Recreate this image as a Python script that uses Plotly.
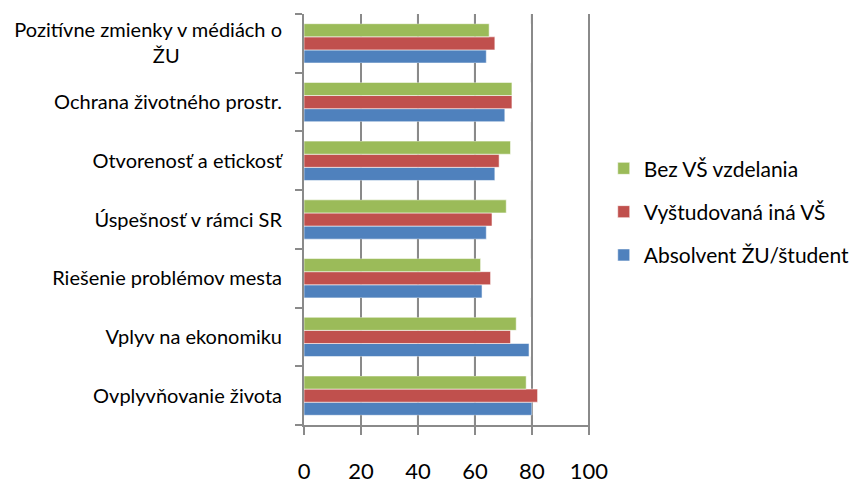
import plotly.graph_objects as go

categories = [
    "Ovplyvňovanie života",
    "Vplyv na ekonomiku",
    "Riešenie problémov mesta",
    "Úspešnosť v rámci SR",
    "Otvorenosť a etickosť",
    "Ochrana životného prostr.",
    "Pozitívne zmienky v médiách o<br>ŽU" + "\u00a0" * 20,
]
absolvent = [80, 79, 62.5, 64, 67, 70.5, 64]
vystudovana = [82, 72.5, 65.5, 66, 68.5, 73, 67]
bez_vs = [78, 74.5, 62, 71, 72.5, 73, 65]
x_ticks = [0, 20, 40, 60, 80, 100]

series = [
    ("Absolvent ŽU/študent", absolvent, "#4F81BD", 3),
    ("Vyštudovaná iná VŠ", vystudovana, "#C0504D", 2),
    ("Bez VŠ vzdelania", bez_vs, "#9BBB59", 1),
]

BARGAP = 0.33
GRID = "#8A8A8A"

fig = go.Figure()
for i, (name, vals, col, rank) in enumerate(series):
    fig.add_trace(go.Bar(
        y=categories, x=vals, name=name, orientation="h",
        marker=dict(color=col, line=dict(color="rgba(255,255,255,0.55)", width=1)),
        legendgroup=str(i), legendrank=rank,
    ))

# gridline segments in the gaps between bar groups (bars hide the rest)
half = (1 - BARGAP) / 2
n = len(categories)
for v in x_ticks[1:-1]:
    for k in range(-1, n):
        y0 = max(k + half, -0.5)
        y1 = min(k + 1 - half, n - 0.5)
        fig.add_shape(type="line", xref="x", yref="y", x0=v, x1=v, y0=y0, y1=y1,
                      line=dict(color=GRID, width=2), layer="above")

fig.update_layout(
    width=853, height=482,
    margin=dict(l=293, r=270, t=6, b=54),
    paper_bgcolor="white", plot_bgcolor="white",
    barmode="group", bargap=BARGAP, bargroupgap=0,
    font=dict(family="Lato, Open Sans, sans-serif", color="black"),
    legend=dict(
        x=1.048, xanchor="left", y=0.519, yanchor="middle",
        traceorder="grouped", tracegroupgap=13,
        font=dict(size=21, color="black"),
    ),
    xaxis=dict(
        range=[0, 100.4], tickvals=x_ticks,
        showgrid=True, gridcolor=GRID, gridwidth=2,
        showline=True, linecolor=GRID, linewidth=2,
        ticks="outside", ticklen=8, tickcolor=GRID, tickwidth=2,
        ticklabelstandoff=18,
        tickfont=dict(size=22), zeroline=False, fixedrange=True,
    ),
    yaxis=dict(
        range=[-0.5, n - 0.5],
        showline=True, linecolor=GRID, linewidth=2,
        ticks="outside", ticklen=7, tickcolor=GRID, tickwidth=2,
        tickson="boundaries", ticklabelstandoff=16,
        tickfont=dict(size=20), showgrid=False, fixedrange=True,
    ),
)

fig.write_html("out.html")
